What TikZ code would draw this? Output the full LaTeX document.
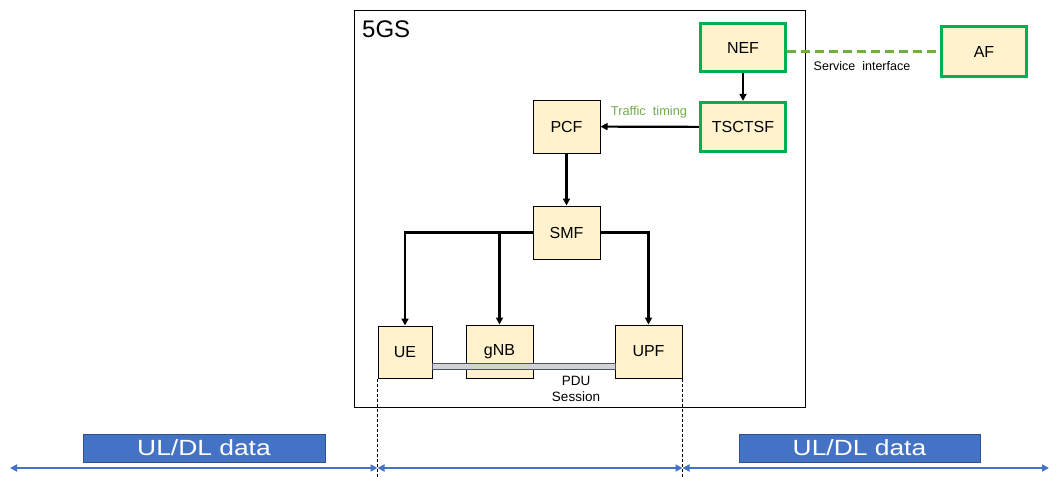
\documentclass[tikz,border=0pt]{standalone}
\usepackage{fontspec}
\setmainfont{Liberation Sans}
\usetikzlibrary{arrows.meta}
\definecolor{boxfill}{HTML}{FFF2CC}
\definecolor{nfgreen}{HTML}{00B050}
\definecolor{ifgreen}{HTML}{70AD47}
\definecolor{datablue}{HTML}{4472C4}
\definecolor{databorder}{HTML}{2F528F}
\definecolor{pduborder}{HTML}{44546A}
\begin{document}
\begin{tikzpicture}[x=1pt,y=-1pt,
  nf/.style={draw=black, line width=1pt, fill=boxfill, inner sep=0pt,
    minimum width=67pt, minimum height=53pt, font=\fontsize{16}{18}\selectfont},
  greennf/.style={nf, draw=nfgreen, line width=3.2pt, minimum width=85pt, minimum height=48pt},
  arr/.style={draw=black, line width=2.2pt, -{Triangle[length=7pt,width=7pt]}},
  barr/.style={draw=datablue, line width=2.2pt, {Triangle[length=7pt,width=7pt]}-{Triangle[length=7pt,width=7pt]}},
  databox/.style={draw=databorder, line width=1pt, fill=datablue, text=white, inner sep=0pt,
    minimum width=242pt, minimum height=28pt, font=\fontsize{22}{24}\selectfont},
  small/.style={font=\fontsize{12.5}{14}\selectfont, inner sep=0pt},
  vdash/.style={draw=black, line width=0.8pt, dash pattern=on 3pt off 2pt}
]
\useasboundingbox (0,0) rectangle (1060,488);
% 5GS frame
\node[draw=black, line width=1pt, minimum width=451pt, minimum height=397pt, inner sep=0pt] (sys) at (579.5,208.5) {};
\node[anchor=west, font=\fontsize{24}{26}\selectfont, inner sep=0pt] (lbl) at (362,29) {5GS};
% network functions
\node[greennf] (nef) at (743,47.5) {NEF};
\node[greennf, minimum height=49pt] (tsc) at (743,127) {TSCTSF};
\node[greennf, minimum height=50pt] (af) at (984,51.5) {AF};
\node[nf] (pcf) at (566.5,126.5) {PCF};
\node[nf] (smf) at (566.5,232.5) {SMF};
\node[nf, minimum width=54pt, minimum height=52pt] (ue) at (405,352) {UE};
\node[nf] (gnb) at (499.5,351.5) {gNB};
\node[nf] (upf) at (648.5,351.5) {UPF};
% PDU session bar
\node[draw=pduborder, line width=1pt, fill=gray!35, minimum width=183pt, minimum height=6pt, inner sep=0pt] (pdu) at (523.5,366) {};
\node[small, align=center, font=\fontsize{13.5}{16}\selectfont] (pdut) at (576,389) {PDU\\Session};
% connectors
\draw[arr] (nef) -- (tsc);
\draw[arr] (tsc) -- (pcf);
\draw[arr] (pcf) -- (smf);
\draw[arr] (smf.west) -| (ue.north);
\draw[arr] (smf.west -| gnb.north) -- (gnb.north);
\draw[arr] (smf.east) -| (upf.north);
\node[small, text=ifgreen, font=\fontsize{12.8}{14}\selectfont] (tt) at (649,112) {Traffic\ \ timing};
\draw[draw=ifgreen, line width=3pt, dash pattern=on 9pt off 5pt] (af.west -| nef.east) -- (af.west);
\node[small] (si) at (862,66) {Service\ \ interface};
% bottom
\coordinate (L) at (10,468);
\coordinate (R) at (1049,468);
\coordinate (B) at (0,478);
\coordinate (m1) at (ue.south west |- L);
\coordinate (m2) at (upf.south east |- L);
\draw[vdash] (ue.south west) -- (ue.south west |- B);
\draw[vdash] (upf.south east) -- (upf.south east |- B);
\draw[barr] (L) -- (m1);
\draw[barr] (m1) -- (m2);
\draw[barr] (m2) -- (R);
\node[databox] (dl) at (204,448) {\scalebox{1.2}[1]{UL/DL data}};
\node[databox, minimum width=241pt] (dr) at (859.5,448) {\scalebox{1.2}[1]{UL/DL data}};
\end{tikzpicture}
\end{document}
